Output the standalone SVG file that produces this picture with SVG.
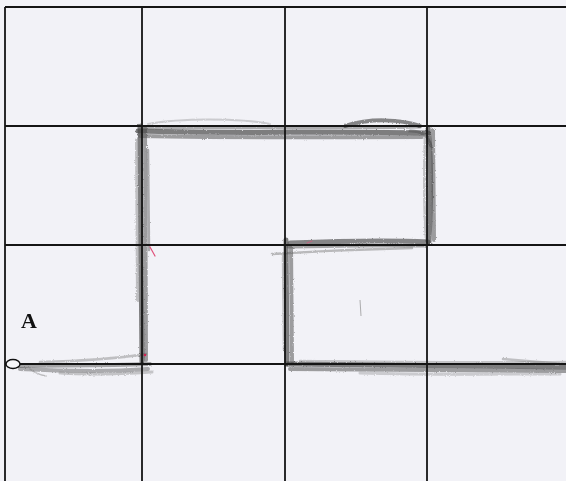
<svg xmlns="http://www.w3.org/2000/svg" width="566" height="481" viewBox="0 0 566 481">
<style>
.grid{stroke:#151515;stroke-width:1.8;fill:none}
.p{fill:none;stroke:#555;stroke-linecap:round;stroke-linejoin:round}
.dk{stroke:#3e3e3e}
.lt{stroke:#808080}
.red{fill:none;stroke:#e0507a;stroke-width:1.2;stroke-linecap:round}
.lbl{font-family:"Liberation Serif","Times New Roman",serif;font-weight:bold;font-size:22px;fill:#111}
</style>
<defs>
<filter id="pencil" filterUnits="userSpaceOnUse" x="0" y="0" width="566" height="481">
<feTurbulence type="fractalNoise" baseFrequency="0.9" numOctaves="2" seed="4" result="n"/>
<feDisplacementMap in="SourceGraphic" in2="n" scale="2.5" xChannelSelector="R" yChannelSelector="G"/>
</filter>
</defs>
<rect x="0" y="0" width="566" height="481" fill="#f2f2f7"/>
<g id="connectors" filter="url(#pencil)">
<g id="seg-bottom-left">
<path class="p" d="M16,366 C50,365 100,366 150,364" stroke-width="4" opacity="0.5"/>
<path class="p" d="M20,369 C60,371 110,372 148,369" stroke-width="4" opacity="0.45"/>
<path class="p lt" d="M40,362 C80,361 120,358 146,354" stroke-width="2.5" opacity="0.45"/>
<path class="p lt" d="M30,369 Q36,374 46,376" stroke-width="1.5" opacity="0.5"/>
<path class="p lt" d="M60,373 C90,375 120,374 152,372" stroke-width="3" opacity="0.4"/>
</g>
<g id="seg-left-vertical">
<path class="p dk" d="M140,126 L141,250 L142,362" stroke-width="5" opacity="0.65"/>
<path class="p" d="M145,128 L146,360" stroke-width="4" opacity="0.55"/>
<path class="p lt" d="M137,140 L138,300" stroke-width="4" opacity="0.45"/>
<path class="p" d="M148,150 L149,250" stroke-width="2.5" opacity="0.45"/>
</g>
<g id="seg-top">
<path class="p dk" d="M138,131 C220,134 330,131 428,133" stroke-width="5" opacity="0.65"/>
<path class="p" d="M140,136 C230,138 320,137 422,137" stroke-width="4" opacity="0.55"/>
<path class="p" d="M142,128 C230,127 300,129 420,127" stroke-width="3" opacity="0.45"/>
<path class="p dk" d="M345,126 C370,118 400,119 420,126" stroke-width="4" opacity="0.6"/>
<path class="p lt" d="M148,124 C180,118 240,118 270,124" stroke-width="2" opacity="0.35"/>
<path class="p" d="M410,131 C422,131 428,135 431,146" stroke-width="3" opacity="0.55"/>
</g>
<g id="seg-right-vertical">
<path class="p dk" d="M428,128 C432,160 431,200 429,242" stroke-width="5" opacity="0.65"/>
<path class="p" d="M433,130 L434,240" stroke-width="4" opacity="0.55"/>
<path class="p lt" d="M425,135 C424,170 424,210 426,240" stroke-width="2.5" opacity="0.45"/>
</g>
<g id="seg-middle">
<path class="p dk" d="M290,243 C340,241 390,240 428,242" stroke-width="5" opacity="0.6"/>
<path class="p" d="M288,247 C340,246 390,245 425,246" stroke-width="3" opacity="0.5"/>
<path class="p lt" d="M272,254 C320,251 370,249 412,248" stroke-width="2.5" opacity="0.5"/>
</g>
<g id="seg-middle-vertical">
<path class="p dk" d="M286,240 L287,364" stroke-width="5" opacity="0.65"/>
<path class="p" d="M291,246 L292,362" stroke-width="4" opacity="0.55"/>
<path class="p lt" d="M283,255 L284,350" stroke-width="2.5" opacity="0.45"/>
</g>
<g id="seg-bottom-right">
<path class="p dk" d="M287,364 C380,365 470,366 566,367" stroke-width="5" opacity="0.65"/>
<path class="p" d="M290,369 C380,370 470,371 566,371" stroke-width="4" opacity="0.55"/>
<path class="p lt" d="M300,361 C400,362 480,363 566,362" stroke-width="2.5" opacity="0.4"/>
<path class="p lt" d="M503,359 L563,364" stroke-width="2.5" opacity="0.45"/>
<path class="p lt" d="M360,373 C430,375 500,374 560,374" stroke-width="3" opacity="0.35"/>
</g>
</g>
<g id="marks">
<path class="red" d="M150,247 L155,256"/>
<circle cx="145" cy="355" r="1.3" fill="#d02050"/>
<path class="red" d="M307,243 L312,241" opacity="0.6"/>
<path d="M360,300 L361,316" stroke="#999" stroke-width="0.8"/>
</g>
<g id="grid">
<path class="grid" d="M5,7 V481 M142,7 V481 M285,7 V481 M427,7 V481"/>
<path class="grid" d="M5,7 H566 M5,126 H566 M5,245 H566 M5,364 H566"/>
</g>
<g id="point-A">
<ellipse cx="13" cy="364" rx="7" ry="4.5" fill="#f7f7fa" stroke="#111" stroke-width="1.4"/>
<text class="lbl" x="21" y="328">A</text>
</g>
</svg>
